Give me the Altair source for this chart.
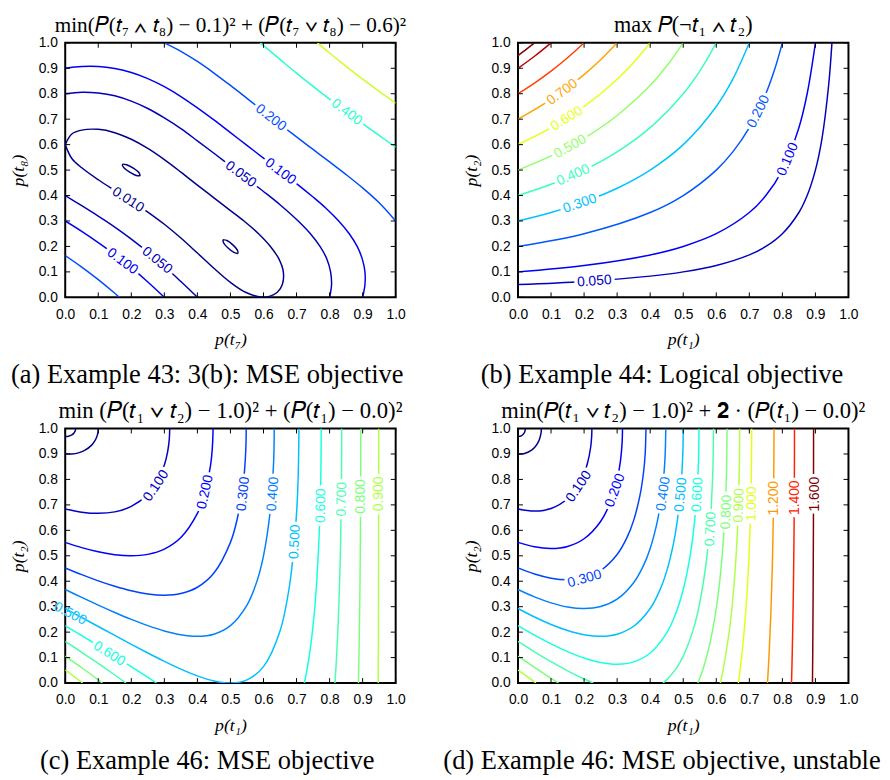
import altair as alt
import pandas as pd

# ---------------- data: contour lines ----------------
TICKS = [0.0, 0.1, 0.2, 0.3, 0.4, 0.5, 0.6, 0.7, 0.8, 0.9, 1.0]

# Panel (a)
A_0001_1 = [(0.2268, 0.4776), (0.2233, 0.4894), (0.2061, 0.5073), (0.1854, 0.5210), (0.1732, 0.5224),
            (0.1767, 0.5106), (0.1939, 0.4927), (0.2146, 0.4790), (0.2268, 0.4776)]
A_0001_2 = [(0.4776, 0.2268), (0.4894, 0.2233), (0.5073, 0.2061), (0.5210, 0.1854), (0.5224, 0.1732),
            (0.5106, 0.1767), (0.4927, 0.1939), (0.4790, 0.2146), (0.4776, 0.2268)]
A_010 = [(0, 0.6), (0.02, 0.6419), (0.05, 0.657), (0.1, 0.66), (0.15, 0.647), (0.2, 0.621), (0.25, 0.585),
         (0.3, 0.541), (0.35, 0.492), (0.4, 0.441), (0.45, 0.391), (0.5, 0.341), (0.541, 0.3), (0.585, 0.25),
         (0.621, 0.2), (0.647, 0.15), (0.66, 0.1), (0.657, 0.05), (0.6419, 0.02), (0.6, 0.0),
         (0.5455, 0.02), (0.5, 0.0586), (0.45, 0.114), (0.4, 0.174), (0.35, 0.233), (0.3, 0.287),
         (0.25, 0.335), (0.2, 0.379), (0.15, 0.42), (0.1, 0.462), (0.05, 0.509), (0.02, 0.5455), (0, 0.6)]
A_050_LOW = [(0, 0.4), (0.05, 0.36), (0.1, 0.319), (0.15, 0.276), (0.2, 0.229), (0.25, 0.178), (0.3, 0.122),
             (0.35, 0.062), (0.4, 0.0)]
A_050_UP = [(0, 0.8), (0.05, 0.806), (0.1, 0.803), (0.15, 0.792), (0.2, 0.771), (0.25, 0.742), (0.3, 0.705),
            (0.35, 0.663), (0.4, 0.615), (0.45, 0.566), (0.5, 0.516), (0.55, 0.466), (0.6, 0.416),
            (0.65, 0.364), (0.705, 0.3), (0.742, 0.25), (0.771, 0.2), (0.792, 0.15), (0.803, 0.1),
            (0.806, 0.05), (0.8, 0.0)]
A_100_LOW = [(0, 0.3), (0.05, 0.259), (0.1, 0.215), (0.15, 0.168), (0.2, 0.1165), (0.25, 0.0605), (0.3, 0.0)]
A_100_UP = [(0, 0.9), (0.05, 0.907), (0.1, 0.907), (0.15, 0.899), (0.2, 0.8835), (0.25, 0.8595), (0.3, 0.8276),
            (0.35, 0.789), (0.4, 0.7445), (0.45, 0.697), (0.5, 0.647), (0.55, 0.597), (0.6, 0.547),
            (0.65, 0.497), (0.7, 0.447), (0.75, 0.394), (0.789, 0.35), (0.8276, 0.3), (0.8595, 0.25),
            (0.8835, 0.2), (0.899, 0.15), (0.907, 0.1), (0.907, 0.05), (0.9, 0.0)]
A_200_LOW = [(0, 0.164), (0.05, 0.1187), (0.1, 0.0695), (0.15, 0.016), (0.164, 0.0)]
A_200_UP = [(0.3, 1.0), (0.35, 0.9668), (0.4, 0.9267), (0.45, 0.8813), (0.5, 0.8325), (0.55, 0.7819),
            (0.6, 0.7308), (0.65, 0.68), (0.7, 0.6303), (0.75, 0.5812), (0.8, 0.5321), (0.85, 0.4824),
            (0.9, 0.43), (0.95, 0.3718), (1.0, 0.3)]
A_400 = [(0.59, 1.0), (0.6, 0.989), (0.65, 0.935), (0.7, 0.881), (0.75, 0.829), (0.8, 0.7786), (0.85, 0.7299),
         (0.9, 0.6825), (0.95, 0.636), (1.0, 0.59)]
A_600 = [(0.7633, 1.0), (0.8, 0.9601), (0.85, 0.9077), (0.9, 0.8575), (0.95, 0.8094), (1.0, 0.7633)]
A_LABELS = [("0.010", 0.19, 0.383, 33), ("0.050", 0.278, 0.145, 39), ("0.100", 0.173, 0.141, 37),
            ("0.050", 0.531, 0.483, 37), ("0.100", 0.651, 0.494, 37), ("0.200", 0.622, 0.706, 38),
            ("0.400", 0.852, 0.727, 37)]

# Panel (b)
B_005 = [(0, 0.05), (0.2, 0.0625), (0.4, 0.0833), (0.5, 0.1), (0.6, 0.125), (0.7, 0.1667), (0.75, 0.2),
         (0.8, 0.25), (0.85, 0.3333), (0.875, 0.4), (0.9, 0.5), (0.92, 0.625), (0.94, 0.8333), (0.95, 1.0)]
B_010 = [(0, 0.1), (0.2, 0.125), (0.4, 0.1667), (0.5, 0.2), (0.6, 0.25), (0.7, 0.3333), (0.75, 0.4),
         (0.8, 0.5), (0.85, 0.6667), (0.875, 0.8), (0.9, 1.0)]
B_020 = [(0, 0.2), (0.2, 0.25), (0.4, 0.3333), (0.5, 0.4), (0.6, 0.5), (0.65, 0.5714), (0.7, 0.6667),
         (0.75, 0.8), (0.775, 0.8889), (0.8, 1.0)]
B_030 = [(0, 0.3), (0.1, 0.3333), (0.2, 0.375), (0.3, 0.4286), (0.4, 0.5), (0.5, 0.6), (0.6, 0.75),
         (0.65, 0.8571), (0.7, 1.0)]
B_040 = [(0, 0.4), (0.1, 0.4444), (0.2, 0.5), (0.3, 0.5714), (0.4, 0.6667), (0.5, 0.8), (0.55, 0.8889), (0.6, 1.0)]
B_050 = [(0, 0.5), (0.1, 0.5556), (0.2, 0.625), (0.3, 0.7143), (0.4, 0.8333), (0.45, 0.9091), (0.5, 1.0)]
B_060 = [(0, 0.6), (0.1, 0.6667), (0.2, 0.75), (0.3, 0.8571), (0.35, 0.9231), (0.4, 1.0)]
B_070 = [(0, 0.7), (0.1, 0.7778), (0.2, 0.875), (0.25, 0.9333), (0.3, 1.0)]
B_080 = [(0, 0.8), (0.05, 0.8421), (0.1, 0.8889), (0.15, 0.9412), (0.2, 1.0)]
B_090 = [(0, 0.9), (0.05, 0.9474), (0.1, 1.0)]
B_095 = [(0, 0.95), (0.025, 0.9744), (0.05, 1.0)]
B_LABELS = [("0.050", 0.231, 0.063, 356), ("0.100", 0.817, 0.542, 293), ("0.200", 0.728, 0.73, 296),
            ("0.300", 0.187, 0.368, 341), ("0.400", 0.167, 0.480, 336), ("0.500", 0.158, 0.592, 331),
            ("0.600", 0.148, 0.702, 328), ("0.700", 0.134, 0.806, 324)]

# Panel (c)
C_0001 = [(0, 0.9684), (0.01, 0.9697), (0.02, 0.975), (0.025, 0.98), (0.03, 0.9897), (0.0316, 1.0)]
C_001 = [(0, 0.9), (0.02, 0.9), (0.04, 0.9045), (0.06, 0.9149), (0.08, 0.9348), (0.09, 0.9521),
         (0.095, 0.9655), (0.099, 0.984), (0.1, 1.0)]
C_010 = [(0, 0.6838), (0.05, 0.6713), (0.1, 0.6667), (0.15, 0.6725), (0.2, 0.6938), (0.25, 0.7418),
         (0.28, 0.7959), (0.3, 0.8571), (0.31, 0.9095), (0.315, 0.9594), (0.3162, 1.0)]
C_020 = [(0, 0.5528), (0.05, 0.5322), (0.1, 0.5157), (0.15, 0.5043), (0.2, 0.5), (0.25, 0.5056), (0.3, 0.5262),
         (0.35, 0.5717), (0.4, 0.6667), (0.42, 0.7351), (0.44, 0.8571), (0.445, 0.9199), (0.447, 0.975),
         (0.4472, 1.0)]
C_030 = [(0, 0.4523), (0.05, 0.4258), (0.1, 0.4016), (0.15, 0.3803), (0.2, 0.3626), (0.25, 0.3502),
         (0.3, 0.3453), (0.35, 0.3518), (0.4, 0.3764), (0.45, 0.4323), (0.5, 0.5528), (0.52, 0.6416),
         (0.54, 0.8008), (0.545, 0.8801), (0.547, 0.9379), (0.5477, 1.0)]
C_040 = [(0, 0.3675), (0.05, 0.3363), (0.1, 0.3061), (0.15, 0.2772), (0.2, 0.25), (0.25, 0.2254),
         (0.3, 0.2046), (0.35, 0.1896), (0.4, 0.1835), (0.45, 0.192), (0.5, 0.2254), (0.55, 0.3061),
         (0.58, 0.3995), (0.6, 0.5), (0.62, 0.6713), (0.63, 0.8495), (0.632, 0.9348), (0.6325, 1.0)]
C_050 = [(0, 0.2929), (0.05, 0.2575), (0.1, 0.2222), (0.15, 0.187), (0.2, 0.1522), (0.25, 0.1181),
         (0.3, 0.0853), (0.35, 0.0548), (0.4, 0.0282), (0.45, 0.0083), (0.5, 0.0), (0.55, 0.0124),
         (0.6, 0.0646), (0.65, 0.2046), (0.68, 0.394), (0.7, 0.6667), (0.705, 0.8151), (0.707, 0.958),
         (0.7071, 1.0)]
C_060_L = [(0, 0.2254), (0.05, 0.1863), (0.1, 0.1465), (0.15, 0.106), (0.2, 0.0646), (0.25, 0.0225), (0.2764, 0.0)]
C_060_R = [(0.7236, 0.0), (0.73, 0.0406), (0.74, 0.1196), (0.75, 0.2254), (0.76, 0.3764), (0.77, 0.6337),
           (0.773, 0.781), (0.774, 0.8655), (0.7745, 0.946), (0.7746, 1.0)]
C_070_L = [(0, 0.1633), (0.05, 0.1209), (0.1, 0.077), (0.15, 0.0316), (0.1838, 0.0)]
C_070_R = [(0.8162, 0.0), (0.82, 0.077), (0.825, 0.2046), (0.83, 0.3802), (0.833, 0.5319), (0.835, 0.6807),
           (0.8365, 0.8995), (0.8367, 1.0)]
C_080_L = [(0, 0.1056), (0.05, 0.06), (0.1, 0.0124), (0.1127, 0.0)]
C_080_R = [(0.8873, 0.0), (0.888, 0.0443), (0.89, 0.192), (0.892, 0.3903), (0.893, 0.528), (0.894, 0.7392),
           (0.8944, 1.0)]
C_090_L = [(0, 0.0513), (0.025, 0.0273), (0.0528, 0.0)]
C_090_R = [(0.9472, 0.0), (0.9476, 0.136), (0.948, 0.3077), (0.9484, 0.55), (0.9487, 1.0)]
C_LABELS = [("0.100", 0.275, 0.775, 304), ("0.200", 0.424, 0.75, 282), ("0.300", 0.539, 0.743, 276),
            ("0.400", 0.629, 0.743, 274), ("0.500", 0.695, 0.555, 273), ("0.500", 0.015, 0.272, 27),
            ("0.600", 0.133, 0.115, 32), ("0.600", 0.774, 0.697, 271), ("0.700", 0.837, 0.722, 271),
            ("0.800", 0.896, 0.733, 270), ("0.900", 0.951, 0.743, 270)]

# Panel (d)
D_0001 = [(0, 0.9684), (0.01, 0.9714), (0.015, 0.9762), (0.02, 0.9856), (0.0224, 1.0)]
D_001 = [(0, 0.9), (0.02, 0.9021), (0.04, 0.9141), (0.05, 0.9256), (0.06, 0.9437), (0.065, 0.9579),
         (0.07, 0.9848), (0.0707, 1.0)]
D_010 = [(0, 0.6838), (0.05, 0.6756), (0.1, 0.6857), (0.15, 0.7241), (0.18, 0.7712), (0.2, 0.8232),
         (0.21, 0.8625), (0.22, 0.9275), (0.223, 0.97), (0.2236, 1.0)]
D_020 = [(0, 0.5528), (0.05, 0.5352), (0.1, 0.5286), (0.15, 0.5368), (0.2, 0.567), (0.25, 0.6349),
         (0.28, 0.7113), (0.3, 0.798), (0.31, 0.872), (0.315, 0.9425), (0.3162, 1.0)]
D_030 = [(0, 0.4523), (0.05, 0.4283), (0.1, 0.412), (0.15, 0.4059), (0.2, 0.4137), (0.25, 0.4422),
         (0.3, 0.5051), (0.33, 0.5721), (0.35, 0.6392), (0.37, 0.7431), (0.38, 0.8293), (0.385, 0.9031),
         (0.3873, 1.0)]
D_040 = [(0, 0.3675), (0.05, 0.3384), (0.1, 0.3151), (0.15, 0.299), (0.2, 0.2929), (0.25, 0.3008),
         (0.3, 0.3299), (0.35, 0.3943), (0.38, 0.4621), (0.4, 0.5286), (0.42, 0.6254), (0.43, 0.6951),
         (0.44, 0.798), (0.445, 0.8868), (0.4472, 1.0)]
D_050 = [(0, 0.2929), (0.05, 0.2594), (0.1, 0.2302), (0.15, 0.2064), (0.2, 0.1899), (0.25, 0.1835),
         (0.3, 0.1919), (0.35, 0.2231), (0.4, 0.2929), (0.43, 0.367), (0.45, 0.4396), (0.47, 0.5448),
         (0.48, 0.6192), (0.49, 0.7241), (0.495, 0.8025), (0.499, 0.9106), (0.5, 1.0)]
D_060 = [(0, 0.2254), (0.05, 0.188), (0.1, 0.1538), (0.15, 0.1236), (0.2, 0.0986), (0.25, 0.0811),
         (0.3, 0.0742), (0.35, 0.0833), (0.4, 0.1181), (0.45, 0.1971), (0.48, 0.2825), (0.5, 0.3675),
         (0.52, 0.4931), (0.53, 0.5841), (0.54, 0.7182), (0.545, 0.8305), (0.547, 0.9122), (0.5477, 1.0)]
D_070_L = [(0, 0.1633), (0.05, 0.1225), (0.1, 0.0838), (0.15, 0.0479), (0.2, 0.0157), (0.2279, 0.0)]
D_070_R = [(0.4387, 0.0), (0.45, 0.0125), (0.48, 0.0595), (0.5, 0.1056), (0.53, 0.209), (0.55, 0.3151),
           (0.57, 0.479), (0.58, 0.6073), (0.585, 0.6995), (0.59, 0.8497), (0.5916, 1.0)]
D_080_L = [(0, 0.1056), (0.05, 0.0614), (0.1, 0.0187), (0.1225, 0.0)]
D_080_R = [(0.5442, 0.0), (0.56, 0.0552), (0.58, 0.1508), (0.6, 0.2929), (0.61, 0.3943), (0.62, 0.5352),
           (0.625, 0.6349), (0.63, 0.7872), (0.632, 0.9078), (0.6325, 1.0)]
D_090_L = [(0, 0.0513), (0.03, 0.023), (0.0544, 0.0)]
D_090_R = [(0.6122, 0.0), (0.62, 0.0468), (0.64, 0.2104), (0.65, 0.3299), (0.66, 0.5009), (0.665, 0.6278),
           (0.668, 0.7382), (0.67, 0.8579), (0.6708, 1.0)]
D_100 = [(0.6667, 0.0), (0.67, 0.031), (0.68, 0.143), (0.69, 0.2947), (0.7, 0.5286), (0.705, 0.7385),
         (0.707, 0.9407), (0.7071, 1.0)]
D_120 = [(0.755, 0.0), (0.76, 0.1181), (0.765, 0.2685), (0.77, 0.4819), (0.773, 0.6903), (0.7745, 0.923),
         (0.7746, 1.0)]
D_140 = [(0.8277, 0.0), (0.83, 0.1235), (0.833, 0.338), (0.835, 0.5485), (0.836, 0.7135), (0.8366, 0.9135),
         (0.83666, 1.0)]
D_160 = [(0.8911, 0.0), (0.892, 0.1378), (0.893, 0.3324), (0.894, 0.6312), (0.8944, 1.0)]
D_LABELS = [("0.100", 0.184, 0.772, 304), ("0.200", 0.294, 0.757, 290), ("0.300", 0.2015, 0.409, 344),
            ("0.400", 0.44, 0.743, 278), ("0.500", 0.493, 0.74, 275), ("0.600", 0.543, 0.74, 273),
            ("0.700", 0.583, 0.605, 273), ("0.800", 0.631, 0.672, 272), ("0.900", 0.669, 0.698, 272),
            ("1.000", 0.708, 0.704, 271), ("1.200", 0.776, 0.726, 270), ("1.400", 0.839, 0.728, 270),
            ("1.600", 0.898, 0.742, 270)]

PANEL_A = [(0.0001, A_0001_1), (0.0001, A_0001_2), (0.01, A_010), (0.05, A_050_LOW), (0.05, A_050_UP),
           (0.1, A_100_LOW), (0.1, A_100_UP), (0.2, A_200_LOW), (0.2, A_200_UP), (0.4, A_400), (0.6, A_600)]
PANEL_B = [(0.05, B_005), (0.1, B_010), (0.2, B_020), (0.3, B_030), (0.4, B_040), (0.5, B_050),
           (0.6, B_060), (0.7, B_070), (0.8, B_080), (0.9, B_090), (0.95, B_095)]
PANEL_C = [(0.001, C_0001), (0.01, C_001), (0.1, C_010), (0.2, C_020), (0.3, C_030), (0.4, C_040),
           (0.5, C_050), (0.6, C_060_L), (0.6, C_060_R), (0.7, C_070_L), (0.7, C_070_R), (0.8, C_080_L),
           (0.8, C_080_R), (0.9, C_090_L), (0.9, C_090_R)]
PANEL_D = [(0.001, D_0001), (0.01, D_001), (0.1, D_010), (0.2, D_020), (0.3, D_030), (0.4, D_040),
           (0.5, D_050), (0.6, D_060), (0.7, D_070_L), (0.7, D_070_R), (0.8, D_080_L), (0.8, D_080_R),
           (0.9, D_090_L), (0.9, D_090_R), (1.0, D_100), (1.2, D_120), (1.4, D_140), (1.6, D_160)]

# ---------------- styling ----------------
W, H = 335, 258
SERIF = "Liberation Serif"
SANS = "Liberation Sans"


def jet(t):
    t = min(max(t, 0.0), 1.0)

    def seg(pts):
        for (x0, y0), (x1, y1) in zip(pts, pts[1:]):
            if x0 <= t <= x1:
                return y0 + (y1 - y0) * (t - x0) / (x1 - x0)
        return pts[-1][1]
    r = seg([(0, 0), (0.35, 0), (0.66, 1), (0.89, 1), (1, 0.5)])
    g = seg([(0, 0), (0.125, 0), (0.375, 1), (0.64, 1), (0.91, 0), (1, 0)])
    b = seg([(0, 0.5), (0.11, 1), (0.34, 1), (0.65, 0), (1, 0)])
    return "#%02x%02x%02x" % tuple(int(round(255 * v)) for v in (r, g, b))


def panel(curves, labels, vmax, title, tsize, xtitle, ytitle, caption, cap_x):
    rows = []
    for k, (lvl, pts) in enumerate(curves):
        for i, (x, y) in enumerate(pts):
            rows.append({"cid": k, "i": i, "x": x, "y": y, "col": jet(lvl / vmax)})
    ldf = pd.DataFrame(rows)
    lab = pd.DataFrame([{"t": t, "x": x, "y": y, "ang": a, "col": jet(float(t) / vmax),
                         "hw": 0 if x < 0.03 else 7} for (t, x, y, a) in labels])
    tdf = pd.DataFrame({"v": TICKS})
    cdf = pd.DataFrame({"t": [caption]})

    xs = alt.Scale(domain=[0, 1], nice=False, zero=False)
    ys = alt.Scale(domain=[0, 1], nice=False, zero=False)
    xaxis = alt.Axis(values=TICKS, format=".1f", title=xtitle, labelPadding=10, titlePadding=10)
    yaxis = alt.Axis(values=TICKS, format=".1f", title=ytitle, labelPadding=8, titlePadding=11)
    X = alt.X("x:Q", scale=xs, axis=xaxis)
    Y = alt.Y("y:Q", scale=ys, axis=yaxis)

    lines = alt.Chart(ldf).mark_line(interpolate="catmull-rom", strokeWidth=1.5, clip=True).encode(
        x=X, y=Y, detail="cid:N", order="i:Q", color=alt.Color("col:N", scale=None))
    halo = alt.Chart(lab).mark_text(font=SANS, fontSize=14, stroke="white", fill="white").encode(
        x=X, y=Y, text="t:N", angle=alt.Angle("ang:Q", scale=None),
        strokeWidth=alt.StrokeWidth("hw:Q", scale=None))
    text = alt.Chart(lab).mark_text(font=SANS, fontSize=14).encode(
        x=X, y=Y, text="t:N", angle=alt.Angle("ang:Q", scale=None), color=alt.Color("col:N", scale=None))
    XT = alt.X("v:Q", scale=xs, axis=xaxis)
    YT = alt.Y("v:Q", scale=ys, axis=yaxis)
    tick = dict(color="black", strokeWidth=1)
    tb = alt.Chart(tdf).mark_rule(**tick).encode(x=XT, y=alt.value(H), y2=alt.value(H - 5))
    tt = alt.Chart(tdf).mark_rule(**tick).encode(x=XT, y=alt.value(0), y2=alt.value(5))
    tl = alt.Chart(tdf).mark_rule(**tick).encode(y=YT, x=alt.value(0), x2=alt.value(5))
    tr = alt.Chart(tdf).mark_rule(**tick).encode(y=YT, x=alt.value(W), x2=alt.value(W - 5))
    cap = alt.Chart(cdf).mark_text(font=SERIF, fontSize=26.8, align="center", baseline="middle",
                                   color="black").encode(
        x=alt.value(cap_x), y=alt.value(H + 79), text="t:N")
    return alt.layer(lines, halo, text, tb, tt, tl, tr, cap).properties(
        width=W, height=H,
        title=alt.TitleParams(text=title, font=SERIF, fontSize=tsize, fontWeight="normal",
                              anchor="middle", offset=-1, color="black"))


pa = panel(PANEL_A, A_LABELS, 1.0, "min(𝑃(𝑡₇ ∧ 𝑡₈) − 0.1)² + (𝑃(𝑡₇ ∨ 𝑡₈) − 0.6)²", 21.5,
           "p(t₇)", "p(t₈)", "(a) Example 43: 3(b): MSE objective", 144)
pb = panel(PANEL_B, B_LABELS, 0.95, "max 𝑃(¬𝑡₁ ∧ 𝑡₂)", 22.5,
           "p(t₁)", "p(t₂)", "(b) Example 44: Logical objective", 146)
pc = panel(PANEL_C, C_LABELS, 1.6, "min  (𝑃(𝑡₁ ∨ 𝑡₂) − 1.0)² + (𝑃(𝑡₁) − 0.0)²", 23,
           "p(t₁)", "p(t₂)", "(c) Example 46: MSE objective", 144)
pd_ = panel(PANEL_D, D_LABELS, 1.6, "min(𝑃(𝑡₁ ∨ 𝑡₂) − 1.0)² + 𝟐 · (𝑃(𝑡₁) − 0.0)²", 22.8,
            "p(t₁)", "p(t₂)", "(d) Example 46: MSE objective, unstable", 146)

chart = alt.concat(pa, pb, pc, pd_, columns=2, spacing={"row": 133, "column": 124}, bounds="flush").properties(
    padding={"left": 0, "top": 0, "right": 0, "bottom": 0}, background="white"
).configure_view(stroke="black", strokeWidth=2).configure_axis(
    domain=False, ticks=False, grid=False, labelFont=SANS, labelFontSize=14, labelColor="black",
    labelFlush=False, labelOverlap=False, labelBound=False,
    titleFont=SERIF, titleFontSize=18, titleFontStyle="italic", titleFontWeight="normal",
    titleColor="black")

chart.save("out.html", embed_options={"renderer": "svg", "actions": False})
